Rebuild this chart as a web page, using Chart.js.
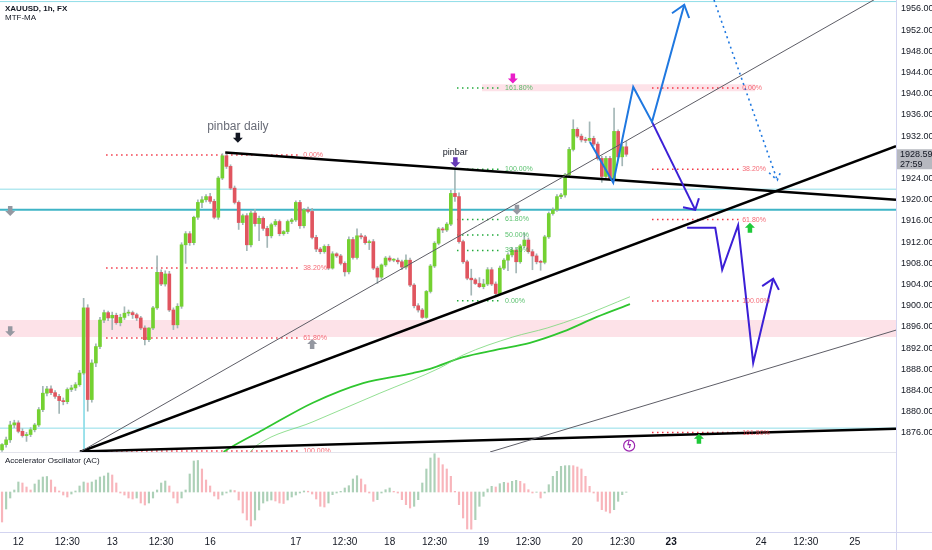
<!DOCTYPE html>
<html><head><meta charset="utf-8">
<script src="https://cdn.jsdelivr.net/npm/chart.js@4.4.0/dist/chart.umd.min.js"></script>
<style>
html,body{margin:0;padding:0;background:#fff;width:932px;height:550px;overflow:hidden;font-family:"Liberation Sans",Arial,sans-serif;}
#wa{position:absolute;left:0;top:0;width:932px;height:452px;}
#wb{position:absolute;left:0;top:452px;width:932px;height:98px;}
.t{position:absolute;left:5px;font-size:8px;color:#131722;white-space:nowrap;}
</style></head><body>
<div id="wa"><canvas id="ca"></canvas></div>
<div id="wb"><canvas id="cb"></canvas></div>
<div class="t" style="top:4px;font-weight:bold">XAUUSD, 1h, FX</div>
<div class="t" style="top:13px">MTF-MA</div>
<div class="t" style="top:456px">Accelerator Oscillator (AC)</div>
<script>
// ---------- DATA ----------
const candleOpen = [
 1872.8,1873.8,1874.7,1877.5,1877.9,1876.3,1875.5,1875.7,1876.6,1877.5,
 1880.4,1883.5,1884.3,1883.6,1882.9,1882.1,1881.9,1884.2,1884.5,1885.1,
 1887.3,1899.6,1882.3,1889.2,1892.3,1897.3,1898.7,1897.7,1898.2,1896.8,
 1897.8,1898.6,1898.7,1898.3,1897.7,1895.8,1893.6,1895.8,1899.6,1906.3,
 1904.1,1906.0,1899.2,1896.4,1899.9,1911.5,1913.6,1911.9,1916.7,1919.5,
 1920.0,1920.6,1919.7,1916.7,1924.1,1928.3,1926.3,1922.2,1919.5,1915.7,
 1917.0,1911.5,1917.5,1915.5,1916.5,1914.6,1913.2,1915.3,1915.9,1913.6,
 1914.0,1915.9,1916.2,1919.5,1915.1,1918.1,1917.8,1912.9,1910.7,1910.2,
 1911.2,1907.1,1909.8,1909.4,1908.0,1906.4,1912.5,1909.1,1913.2,1913.0,
 1911.9,1912.1,1907.1,1905.4,1907.7,1909.0,1908.6,1908.6,1908.3,1907.3,
 1908.6,1903.9,1900.0,1899.2,1897.8,1902.7,1907.5,1911.8,1914.5,1914.3,
 1915.4,1921.2,1920.6,1912.1,1908.3,1905.2,1904.9,1904.2,1903.6,1904.1,
 1906.8,1904.1,1902.3,1907.1,1908.6,1909.6,1910.5,1908.3,1911.3,1912.4,
 1910.2,1909.4,1908.3,1908.2,1913.0,1917.4,1918.1,1920.6,1920.9,1924.7,
 1929.5,1933.3,1932.0,1931.3,1931.2,1931.6,1930.5,1927.8,1924.4,1927.8,
 1924.0,1932.9,1928.1,1930.0];
const candleHigh = [
 1874.0,1875.2,1878.2,1878.4,1878.3,1876.8,1876.1,1877.0,1877.8,1880.8,
 1884.8,1884.8,1884.9,1884.0,1883.3,1882.6,1884.5,1885.0,1885.5,1887.8,
 1901.4,1900.2,1889.8,1892.8,1897.8,1899.2,1899.0,1898.8,1898.6,1898.4,
 1899.8,1899.2,1899.0,1898.6,1898.0,1896.2,1895.9,1899.9,1909.4,1906.8,
 1906.6,1906.5,1899.6,1900.4,1911.9,1914.0,1914.0,1916.9,1920.0,1920.6,
 1921.0,1921.2,1920.1,1924.4,1928.7,1928.6,1926.6,1922.6,1919.8,1917.3,
 1917.4,1918.0,1918.2,1916.9,1916.8,1915.0,1915.6,1916.3,1916.2,1914.2,
 1916.2,1916.5,1919.8,1919.9,1918.4,1918.6,1918.4,1913.3,1911.0,1911.5,
 1911.6,1910.2,1910.0,1909.7,1908.3,1913.0,1912.9,1914.5,1913.6,1913.3,
 1912.4,1912.5,1907.4,1907.9,1909.3,1909.4,1908.9,1909.0,1908.6,1909.6,
 1909.0,1904.2,1900.4,1899.5,1902.9,1907.8,1912.1,1914.8,1914.8,1915.7,
 1921.8,1925.9,1921.3,1912.4,1908.6,1906.9,1905.2,1905.3,1905.0,1907.2,
 1907.2,1904.5,1907.5,1908.9,1910.0,1911.0,1910.9,1911.6,1913.7,1912.8,
 1910.6,1909.8,1908.6,1913.3,1917.7,1918.5,1921.0,1921.2,1925.0,1929.9,
 1935.1,1933.6,1932.4,1931.8,1934.7,1932.0,1930.9,1928.2,1928.2,1928.2,
 1937.3,1933.2,1930.5,1931.0];
const candleLow = [
 1872.5,1873.3,1874.2,1877.0,1876.0,1875.2,1874.4,1875.3,1876.2,1877.2,
 1880.0,1883.0,1883.2,1882.5,1879.7,1881.3,1881.5,1883.8,1884.0,1884.8,
 1887.0,1880.1,1881.8,1888.5,1891.9,1896.8,1897.2,1895.5,1896.5,1896.2,
 1897.4,1898.1,1897.6,1897.2,1895.5,1892.6,1893.2,1895.5,1899.3,1903.8,
 1903.7,1898.9,1895.5,1895.8,1899.5,1908.0,1911.4,1911.5,1916.3,1918.5,
 1919.6,1919.3,1916.4,1916.3,1923.8,1925.9,1921.9,1919.2,1914.4,1915.3,
 1910.4,1911.1,1915.0,1912.3,1914.2,1911.0,1912.8,1915.0,1913.2,1913.3,
 1913.6,1915.5,1915.9,1914.6,1914.7,1917.5,1912.6,1910.2,1909.8,1909.9,
 1906.8,1906.9,1909.1,1907.7,1905.6,1906.0,1908.8,1908.8,1912.6,1911.6,
 1910.6,1906.8,1904.2,1905.0,1907.4,1908.3,1908.3,1907.9,1906.8,1906.9,
 1903.6,1899.6,1898.8,1897.6,1897.6,1902.4,1907.2,1911.5,1913.8,1914.0,
 1915.1,1919.7,1911.8,1908.0,1904.9,1902.0,1904.0,1903.4,1903.2,1903.8,
 1903.8,1901.7,1902.0,1906.8,1906.6,1909.2,1906.2,1908.0,1911.0,1909.9,
 1906.8,1907.9,1906.7,1907.9,1912.7,1917.1,1917.8,1920.2,1920.5,1924.4,
 1929.2,1931.7,1930.9,1930.8,1930.9,1930.2,1927.5,1923.3,1924.0,1923.7,
 1923.8,1927.6,1926.4,1928.2];
const candleClose = [
 1873.8,1874.7,1877.5,1877.9,1876.3,1875.5,1875.7,1876.6,1877.5,1880.4,
 1883.5,1884.3,1883.6,1882.9,1882.1,1881.9,1884.2,1884.5,1885.1,1887.3,
 1899.6,1882.3,1889.2,1892.3,1897.3,1898.7,1897.7,1898.2,1896.8,1897.8,
 1898.6,1898.7,1898.3,1897.7,1895.8,1893.6,1895.8,1899.6,1906.3,1904.1,
 1906.0,1899.2,1896.4,1899.9,1911.5,1913.6,1911.9,1916.7,1919.5,1920.0,
 1920.6,1919.7,1916.7,1924.1,1928.3,1926.3,1922.2,1919.5,1915.7,1917.0,
 1911.5,1917.5,1915.5,1916.5,1914.6,1913.2,1915.3,1915.9,1913.6,1914.0,
 1915.9,1916.2,1919.5,1915.1,1918.1,1917.8,1912.9,1910.7,1910.2,1911.2,
 1907.1,1909.8,1909.4,1908.0,1906.4,1912.5,1909.1,1913.2,1913.0,1911.9,
 1912.1,1907.1,1905.4,1907.7,1909.0,1908.6,1908.6,1908.3,1907.3,1908.6,
 1903.9,1900.0,1899.2,1897.8,1902.7,1907.5,1911.8,1914.5,1914.3,1915.4,
 1921.2,1920.6,1912.1,1908.3,1905.2,1904.9,1904.2,1903.6,1904.1,1906.8,
 1904.1,1902.3,1907.1,1908.6,1909.6,1910.5,1908.3,1911.3,1912.4,1910.2,
 1909.4,1908.3,1908.2,1913.0,1917.4,1918.1,1920.6,1920.9,1924.7,1929.5,
 1933.3,1932.0,1931.3,1931.2,1931.6,1930.5,1927.8,1924.4,1927.8,1924.0,
 1932.9,1928.1,1930.0,1928.59];
const acValues = [
 -3.0,-1.7,-0.6,0.2,1.0,0.9,0.5,0.2,0.8,1.2,
 1.5,1.55,1.2,0.5,0.1,-0.3,-0.5,-0.2,0.1,0.6,
 1.0,0.9,1.0,1.2,1.5,1.6,1.9,1.7,0.9,-0.1,
 -0.3,-0.6,-0.7,-0.6,-1.1,-1.3,-1.1,-0.6,0.2,0.9,
 1.1,0.6,-0.6,-1.1,-0.6,0.2,1.8,3.1,3.15,2.3,
 1.2,0.6,-0.4,-0.7,-0.3,-0.1,0.2,0.15,-0.8,-2.1,
 -2.8,-3.4,-2.8,-1.8,-1.1,-0.9,-0.8,-0.9,-1.1,-1.15,
 -0.8,-0.5,-0.3,-0.1,0.1,0.08,-0.2,-0.7,-1.43,-1.5,
 -1.1,-0.27,-0.1,0.07,0.4,0.63,1.3,1.63,1.3,0.73,
 -0.1,-0.93,-0.77,-0.1,0.23,0.4,0.07,-0.1,-0.77,-1.27,
 -1.6,-1.43,-0.77,0.9,2.3,3.4,3.83,3.4,2.73,2.3,
 1.57,0.07,-1.27,-2.6,-3.7,-3.72,-2.77,-1.43,-0.43,0.3,
 0.57,0.5,0.83,0.97,0.9,1.07,1.17,1.07,0.83,0.23,
 -0.1,-0.03,-0.6,-0.1,0.73,1.57,2.07,2.57,2.63,2.64,
 2.63,2.5,2.3,1.57,0.57,-0.1,-0.93,-1.77,-1.93,-2.1,
 -1.77,-0.93,-0.27,-0.03];
const priceTicks = [1876,1880,1884,1888,1892,1896,1900,1904,1908,1912,1916,1920,1924,1928,1932,1936,1940,1944,1948,1952,1956];
const timeTickSlots  = [4,16,27,39,51,72,84,95,106,118,129,141,152,164,186,197,209];
const timeTickLabels = ['12','12:30','13','12:30','16','17','12:30','18','12:30','19','12:30','20','12:30','23','24','12:30','25'];
const countdownText = '27:59';
// moving averages (slot, value)
const maSlots  = [54.3,55.9,64,76.2,88.5,100.7,104.9,113,121.3,129.4,137.5,145.8,153.9];
const maValues = [1872.4,1873.2,1876.6,1881.7,1885.4,1887.3,1888.1,1890.3,1891.7,1893.0,1895.1,1897.9,1900.3];
const ma2Slots  = [60.8,62.5,76.2,92.6,107.4,113,125.2,133.6,141.7,153.9];
const ma2Values = [1872.4,1873.7,1878.1,1883.5,1888.3,1890.7,1894.1,1895.8,1897.9,1901.7];
// drawings (slot, price anchors)
const hLines = [1957.4, 1922.0, 1918.1, 1876.9];
const zones = [[1894.1,1897.3,-0.5,219.1],[1940.5,1941.8,117.6,184.6]];
const trendDown = [[54.7,1928.9],[219.1,1920.0]];
const trendUp = [[19.1,1872.4],[219.1,1930.1]];
const trendBottom = [[19.1,1872.5],[219.1,1876.8]];
const thinUp = [[19.1,1872.4],[219.1,1960.1]];
const thinLow = [[119.6,1872.4],[219.1,1895.4]];
const vLine = [[20.1,1887.3],[20.1,1872.4]];
const bluePath = [[144.1,1930.9],[149.8,1923.2],[154.7,1941.3],[159.3,1934.7],[167.2,1956.8]];
const blueHead = [[164.2,1955.2],[167.2,1956.8],[168.4,1954.3]];
const blueDotted = [[174.5,1957.7],[190.0,1923.7]];
const blueDottedHead = [[188.0,1925.1],[190.0,1923.7],[190.9,1925.4]];
const indigoPath1 = [[159.3,1934.7],[169.9,1918.1]];
const indigoHead1 = [[166.9,1918.6],[169.9,1918.1],[170.8,1920.3]];
const indigoPath2 = [[167.9,1914.7],[174.8,1914.7],[176.5,1906.8],[180.4,1915.2],[184.1,1889.2],[189.0,1905.1]];
const indigoHead2 = [[186.3,1903.7],[189.0,1905.1],[190.4,1903.0]];
// fibonacci tools: 0% price, 100% price, levels, slot range, label slot
const fibs = [
  {p0:1928.45, p1:1872.6, levels:[0,0.382,0.618,1], x0:25.5, x1:73, lx:73.8, color:'#f23645'},
  {p0:1900.96, p1:1925.75, levels:[0,0.382,0.5,0.618,1,1.618], x0:111.5, x1:122.5, lx:123.3, color:'#22ab3c'},
  {p0:1941.1, p1:1900.9, levels:[0,0.382,0.618,1,1.618], x0:159.3, x1:180.5, lx:181.4, color:'#f23645'}
];
const arrowMarks = [
  {x:57.8, y:1931.7, dir:'down', color:'#131722'},
  {x:111.1, y:1927.1, dir:'down', color:'#673ab7'},
  {x:125.2, y:1942.9, dir:'down', color:'#e91ec8'},
  {x:2, y:1917.9, dir:'down', color:'#9598a1'},
  {x:2, y:1895.2, dir:'down', color:'#9598a1'},
  {x:126.2, y:1918.1, dir:'down', color:'#9598a1'},
  {x:76, y:1892.8, dir:'up', color:'#9598a1'},
  {x:183.3, y:1914.7, dir:'up', color:'#1fc93a'},
  {x:170.8, y:1874.9, dir:'up', color:'#1fc93a'}
];
const textNotes = [
  {x:57.8, y:1933.7, text:'pinbar daily', color:'#6a6d78', size:12},
  {x:111.1, y:1929.0, text:'pinbar', color:'#131722', size:9}
];
const iconMark = {x:153.7, y:1873.6};

// ---------- CONFIG ----------
const X_MIN = -0.5, X_MAX = 219.1, P_MIN = 1872.4, P_MAX = 1957.7;
const FONT = '"Liberation Sans", Arial, sans-serif';
const GREEN = '#74d131', RED = '#e0555f', WICK = '#a3b6b6';
const AXIS_LINE = '#d3d4f0';
const toPts = a => a.map(p => ({x:p[0], y:p[1]}));
function lineDs(pts, color, width, dash, order, extra) {
  return Object.assign({type:'line', data:toPts(pts), borderColor:color, borderWidth:width,
    borderDash:dash||[], pointRadius:0, fill:false, tension:0, order:order}, extra||{});
}
const dsA = [];
zones.forEach(z => {
  dsA.push({type:'line', data:[{x:z[2],y:z[1]},{x:z[3],y:z[1]}], borderColor:'rgba(0,0,0,0)', borderWidth:0, pointRadius:0, fill:'+1', backgroundColor:'rgba(240,60,100,0.15)', order:100});
  dsA.push({type:'line', data:[{x:z[2],y:z[0]},{x:z[3],y:z[0]}], borderColor:'rgba(0,0,0,0)', borderWidth:0, pointRadius:0, fill:false, order:100});
});
hLines.forEach((p, i) => {
  const thick = i === 2;
  dsA.push(lineDs([[X_MIN,p],[X_MAX,p]], thick ? '#3fb4c6' : '#8fdde8', thick ? 2 : 1, [], 90));
});
dsA.push(lineDs(vLine, '#8fdde8', 1, [], 90));
fibs.forEach(f => f.levels.forEach(l => {
  const p = f.p0 + (f.p1 - f.p0) * l;
  dsA.push(lineDs([[f.x0,p],[f.x1,p]], f.color, 1.5, [1.5,3.5], 80));
}));
dsA.push(lineDs(ma2Slots.map((s,i)=>[s, ma2Values[i]]), 'rgba(120,215,120,0.8)', 1, [], 70, {cubicInterpolationMode:'monotone'}));
dsA.push(lineDs(maSlots.map((s,i)=>[s, maValues[i]]), '#2fc62f', 1.8, [], 70, {cubicInterpolationMode:'monotone'}));
dsA.push({type:'bar', data:candleOpen.map((o,i)=>({x:i, y:[candleLow[i], candleHigh[i]]})), backgroundColor:WICK, barThickness:1, grouped:false, order:50});
dsA.push({type:'bar', data:candleOpen.map((o,i)=>({x:i, y:[o, candleClose[i]]})),
  backgroundColor: c => candleClose[c.dataIndex] >= candleOpen[c.dataIndex] ? GREEN : RED,
  barThickness:3, minBarLength:1, grouped:false, order:49});
dsA.push(lineDs(thinUp, '#5d5d66', 1, [], 30));
dsA.push(lineDs(thinLow, '#5d5d66', 1, [], 30));
dsA.push(lineDs(trendDown, '#000', 2.5, [], 30));
dsA.push(lineDs(trendUp, '#000', 2.5, [], 30));
dsA.push(lineDs(trendBottom, '#000', 2.5, [], 30));
dsA.push(lineDs(bluePath, '#1f78e0', 2, [], 10));
dsA.push(lineDs(blueHead, '#1f78e0', 2, [], 10));
dsA.push(lineDs(blueDotted, '#1f78e0', 1.6, [2,3.5], 10));
dsA.push(lineDs(blueDottedHead, '#1f78e0', 1.6, [2,3.5], 10));
dsA.push(lineDs(indigoPath1, '#3b1fd6', 2, [], 10));
dsA.push(lineDs(indigoHead1, '#3b1fd6', 2, [], 10));
dsA.push(lineDs(indigoPath2, '#3b1fd6', 2, [], 10));
dsA.push(lineDs(indigoHead2, '#3b1fd6', 2, [], 10));

function blockArrow(ctx, cx, cy, dir, color) {
  const s = 10, sw = 4.5;
  ctx.fillStyle = color;
  ctx.beginPath();
  if (dir === 'down') {
    ctx.rect(cx - sw/2, cy - s/2, sw, s/2);
    ctx.moveTo(cx - s/2, cy); ctx.lineTo(cx + s/2, cy); ctx.lineTo(cx, cy + s/2); ctx.closePath();
  } else {
    ctx.rect(cx - sw/2, cy, sw, s/2);
    ctx.moveTo(cx - s/2, cy); ctx.lineTo(cx + s/2, cy); ctx.lineTo(cx, cy - s/2); ctx.closePath();
  }
  ctx.fill();
}
const overlayA = {
  id:'overlayA',
  afterDatasetsDraw(chart) {
    const {ctx, chartArea:a, scales:{x, y}} = chart;
    ctx.save();
    ctx.beginPath(); ctx.rect(a.left, a.top, a.width, a.height); ctx.clip();
    ctx.textBaseline = 'middle'; ctx.textAlign = 'left';
    fibs.forEach(f => f.levels.forEach(l => {
      const p = f.p0 + (f.p1 - f.p0) * l;
      ctx.fillStyle = f.color; ctx.globalAlpha = 0.75;
      ctx.font = '7px ' + FONT;
      ctx.fillText((l*100).toFixed(2) + '%', x.getPixelForValue(f.lx), y.getPixelForValue(p));
    }));
    ctx.globalAlpha = 1;
    arrowMarks.forEach(m => blockArrow(ctx, x.getPixelForValue(m.x), y.getPixelForValue(m.y), m.dir, m.color));
    ctx.textAlign = 'center';
    textNotes.forEach(t => {
      ctx.fillStyle = t.color; ctx.font = t.size + 'px ' + FONT;
      ctx.fillText(t.text, x.getPixelForValue(t.x), y.getPixelForValue(t.y));
    });
    const ix = x.getPixelForValue(iconMark.x), iy = y.getPixelForValue(iconMark.y);
    ctx.strokeStyle = '#9c27b0'; ctx.lineWidth = 1.2;
    ctx.beginPath(); ctx.arc(ix, iy, 5.5, 0, Math.PI*2); ctx.stroke();
    ctx.fillStyle = '#9c27b0'; ctx.font = 'bold 8px "DejaVu Sans"';
    ctx.fillText('ϟ', ix, iy + 0.5);
    ctx.restore();
  },
  afterDraw(chart) {
    const {ctx, chartArea:a, scales:{y}} = chart;
    ctx.save();
    ctx.strokeStyle = AXIS_LINE; ctx.lineWidth = 1;
    ctx.beginPath(); ctx.moveTo(a.right + 0.5, 0); ctx.lineTo(a.right + 0.5, chart.height); ctx.stroke();
    const last = candleClose[candleClose.length - 1];
    const py = y.getPixelForValue(last);
    ctx.fillStyle = '#b6b8bf';
    ctx.fillRect(a.right + 1, py - 5, chart.width - a.right - 1, 20);
    ctx.fillStyle = '#131722'; ctx.font = '9px ' + FONT;
    ctx.textAlign = 'left'; ctx.textBaseline = 'middle';
    ctx.fillText(last.toFixed(2), a.right + 4, py + 0.5);
    ctx.fillText(countdownText, a.right + 4, py + 10);
    ctx.restore();
  }
};
new Chart(document.getElementById('ca'), {
  type:'line',
  data:{datasets:dsA},
  options:{
    responsive:true, maintainAspectRatio:false, animation:false, events:[],
    layout:{padding:0},
    plugins:{legend:{display:false}, tooltip:{enabled:false}},
    scales:{
      x:{type:'linear', display:false, min:X_MIN, max:X_MAX, offset:false},
      y:{type:'linear', position:'right', min:P_MIN, max:P_MAX,
        grid:{display:false, drawTicks:false}, border:{display:false},
        ticks:{color:'#131722', font:{size:9, family:FONT}, padding:5, callback:v => Number(v).toFixed(2)},
        afterBuildTicks:s => { s.ticks = priceTicks.map(v => ({value:v})); },
        afterFit:s => { s.width = 36; s.paddingTop = 0; s.paddingBottom = 0; }
      }
    }
  },
  plugins:[overlayA]
});

const overlayB = {
  id:'overlayB',
  afterDraw(chart) {
    const {ctx, chartArea:a} = chart;
    ctx.save();
    ctx.lineWidth = 1;
    ctx.strokeStyle = '#e3e4ec';
    ctx.beginPath(); ctx.moveTo(0, 0.5); ctx.lineTo(a.right, 0.5); ctx.stroke();
    ctx.strokeStyle = AXIS_LINE;
    ctx.beginPath(); ctx.moveTo(0, a.bottom + 0.5); ctx.lineTo(chart.width, a.bottom + 0.5); ctx.stroke();
    ctx.beginPath(); ctx.moveTo(a.right + 0.5, 0); ctx.lineTo(a.right + 0.5, chart.height); ctx.stroke();
    ctx.restore();
  }
};
new Chart(document.getElementById('cb'), {
  type:'bar',
  data:{datasets:[{
    data:acValues.map((v,i) => ({x:i, y:v})),
    backgroundColor:c => (c.dataIndex > 0 && acValues[c.dataIndex] >= acValues[c.dataIndex-1]) ? 'rgba(70,150,95,0.45)' : 'rgba(240,90,105,0.45)',
    barThickness:1.5, grouped:false
  }]},
  options:{
    responsive:true, maintainAspectRatio:false, animation:false, events:[],
    layout:{padding:0},
    plugins:{legend:{display:false}, tooltip:{enabled:false}},
    scales:{
      x:{type:'linear', position:'bottom', min:X_MIN, max:X_MAX, offset:false,
        grid:{display:false, drawTicks:false}, border:{display:false},
        ticks:{autoSkip:false, maxRotation:0, minRotation:0, padding:4, color:'#131722',
          font:c => ({size:10, family:FONT, weight:(c.tick && timeTickLabels[timeTickSlots.indexOf(c.tick.value)] === '23') ? 'bold' : 'normal'}),
          callback:(v, i) => timeTickLabels[i]},
        afterBuildTicks:s => { s.ticks = timeTickSlots.map(v => ({value:v})); },
        afterFit:s => { s.height = 18; s.paddingLeft = 0; s.paddingRight = 0; }
      },
      y:{type:'linear', position:'right', min:-4, max:4,
        grid:{display:false}, border:{display:false}, ticks:{display:false},
        afterFit:s => { s.width = 36; s.paddingTop = 0; s.paddingBottom = 0; }
      }
    }
  },
  plugins:[overlayB]
});
</script>
</body></html>
